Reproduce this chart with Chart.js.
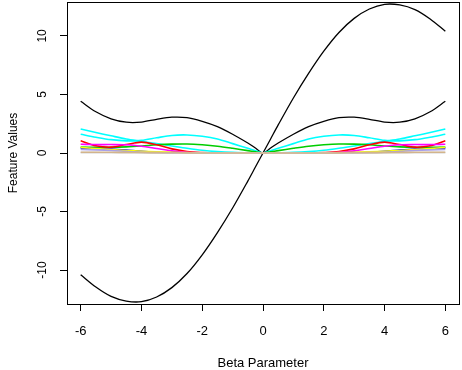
<!DOCTYPE html>
<html><head><meta charset="utf-8">
<script src="https://cdn.jsdelivr.net/npm/chart.js@4/dist/chart.umd.min.js"></script>
<style>html,body{margin:0;padding:0;background:#fff}#wrap{width:462px;height:370px}</style>
</head><body><div id="wrap"><canvas id="c" width="462" height="370"></canvas></div>
<script>
const betaValues = [-6,-5.5,-5,-4.5,-4,-3.5,-3,-2.5,-2,-1.5,-1,-0.5,-0.25,0,0.25,0.5,1,1.5,2,2.5,3,3.5,4,4.5,5,5.5,6];
const xTickValues = [-6,-4,-2,0,2,4,6];
const yTickValues = [-10,-5,0,5,10];

const featureOddBlack = [-10.4,-11.45,-12.25,-12.65,-12.7,-12.3,-11.5,-10.3,-8.7,-6.8,-4.7,-2.4,-1.2,0,1.2,2.4,4.7,6.8,8.7,10.3,11.5,12.3,12.7,12.65,12.25,11.45,10.4];
const featureEvenBlack = [4.42,3.52,2.92,2.63,2.64,2.88,3.06,3.02,2.7,2.25,1.6,0.85,0.43,0,0.43,0.85,1.6,2.25,2.7,3.02,3.06,2.88,2.64,2.63,2.92,3.52,4.42];
const featureCyanA = [1.6,1.35,1.14,1.04,1.08,1.3,1.5,1.54,1.43,1.2,0.8,0.4,0.2,0,0.2,0.4,0.8,1.2,1.43,1.54,1.5,1.3,1.08,1.04,1.14,1.35,1.6];
const featureCyanB = [2.05,1.75,1.47,1.2,1.0,0.8,0.6,0.4,0.23,0.12,0.05,0.02,0.01,0,0.01,0.02,0.05,0.12,0.23,0.4,0.6,0.8,1.0,1.2,1.47,1.75,2.05];
const featureGreen = [0.5,0.48,0.48,0.52,0.6,0.7,0.76,0.77,0.7,0.58,0.4,0.2,0.1,0,0.1,0.2,0.4,0.58,0.7,0.77,0.76,0.7,0.6,0.52,0.48,0.48,0.5];
const featureRed = [1.05,0.62,0.5,0.72,0.93,0.7,0.35,0.12,0.04,0.01,0,0,0,0,0,0,0,0.01,0.04,0.12,0.35,0.7,0.93,0.72,0.5,0.62,1.05];
const featureMagenta = [0.75,0.72,0.72,0.7,0.58,0.38,0.18,0.07,0.02,0,0,0,0,0,0,0,0,0,0.02,0.07,0.18,0.38,0.58,0.7,0.72,0.72,0.75];
const featureBlue = [0.42,0.39,0.34,0.25,0.14,0.07,0.03,0.01,0,0,0,0,0,0,0,0,0,0,0,0.01,0.03,0.07,0.14,0.25,0.34,0.39,0.42];
const featureYellow = [0.48,0.38,0.3,0.22,0.15,0.1,0.06,0.03,0.01,0,0,0,0,0,0,0,0,0,0.01,0.03,0.06,0.1,0.15,0.22,0.3,0.38,0.48];
const featureLavender = [0.3,0.27,0.22,0.14,0.07,0.03,0.01,0,0,0,0,0,0,0,0,0,0,0,0,0,0.01,0.03,0.07,0.14,0.22,0.27,0.3];
const featureGray = [0.03,0.03,0.02,0.02,0.01,0.01,0,0,0,0,0,0,0,0,0,0,0,0,0,0,0,0.01,0.01,0.02,0.02,0.03,0.03];
const featureTan = [0.06,0.06,0.06,0.05,0.04,0.03,0.02,0.01,0,0,0,0,0,0,0,0,0,0,0,0.01,0.02,0.03,0.04,0.05,0.06,0.06,0.06];

const seriesList = [
  {name:'f1', values: featureOddBlack, color:'#000000', width:1.3},
  {name:'f2', values: featureEvenBlack, color:'#000000', width:1.3},
  {name:'f3', values: featureCyanA, color:'#00FFFF', width:1.6},
  {name:'f4', values: featureCyanB, color:'#00FFFF', width:1.6},
  {name:'f5', values: featureGreen, color:'#00CD00', width:1.6},
  {name:'f6', values: featureRed, color:'#FF0000', width:1.6},
  {name:'f7', values: featureMagenta, color:'#FF00FF', width:1.6},
  {name:'f8', values: featureBlue, color:'#0000FF', width:1.6},
  {name:'f9', values: featureYellow, color:'#FFFF00', width:1.6},
  {name:'f10', values: featureLavender, color:'#A9A0E8', width:1.6},
  {name:'f11', values: featureGray, color:'#D3D3D3', width:1.6},
  {name:'f12', values: featureTan, color:'#D2B48C', width:1.6}
];

const datasets = seriesList.map((s, i) => ({
  label: s.name,
  data: betaValues.map((b, j) => ({x: b, y: s.values[j]})),
  borderColor: s.color,
  borderWidth: s.width,
  pointRadius: 0,
  fill: false,
  tension: 0.3,
  order: seriesList.length - i
}));

const framePlugin = {
  id: 'frame',
  afterDraw(chart) {
    const {ctx, chartArea: a} = chart;
    ctx.save();
    ctx.strokeStyle = '#000';
    ctx.lineWidth = 1;
    ctx.strokeRect(Math.round(a.left) + 0.5, Math.round(a.top) + 0.5, Math.round(a.right - a.left), Math.round(a.bottom - a.top));
    ctx.restore();
  }
};

const fam = "'Liberation Sans', Arial, Helvetica, sans-serif";

new Chart(document.getElementById('c'), {
  type: 'line',
  data: {datasets},
  plugins: [framePlugin],
  options: {
    responsive: false,
    animation: false,
    events: [],
    layout: {padding: {top: 2, right: 3, left: 0, bottom: 0}},
    plugins: {legend: {display: false}, tooltip: {enabled: false}},
    scales: {
      x: {
        type: 'linear',
        min: -6.45, max: 6.45,
        afterBuildTicks: (s) => { s.ticks = xTickValues.map(v => ({value: v})); },
        afterFit: (s) => { s.height = 66; s.paddingLeft = 0; s.paddingRight = 0; },
        ticks: {color: '#000', font: {family: fam, size: 13}, padding: 13, maxRotation: 0, autoSkip: false},
        grid: {display: true, drawOnChartArea: false, drawTicks: true, tickLength: 7, color: '#000', tickColor: '#000'},
        border: {display: true, color: '#000'},
        title: {display: true, text: 'Beta Parameter', color: '#000', font: {family: fam, size: 13, lineHeight: 1}, padding: {top: 0, bottom: 0}}
      },
      y: {
        type: 'linear',
        min: -12.9, max: 12.9,
        afterBuildTicks: (s) => { s.ticks = yTickValues.map(v => ({value: v})); },
        afterFit: (s) => { s.width = 67; s.paddingTop = 0; s.paddingBottom = 0; },
        ticks: {color: '#000', font: {family: fam, size: 12}, padding: 9, minRotation: 90, maxRotation: 90, crossAlign: 'center', autoSkip: false},
        grid: {display: true, drawOnChartArea: false, drawTicks: true, tickLength: 7, color: '#000', tickColor: '#000'},
        border: {display: true, color: '#000'},
        title: {display: true, text: 'Feature Values', color: '#000', font: {family: fam, size: 12, lineHeight: 1}, padding: {top: 8, bottom: 0}}
      }
    }
  }
});
</script>
</body></html>
